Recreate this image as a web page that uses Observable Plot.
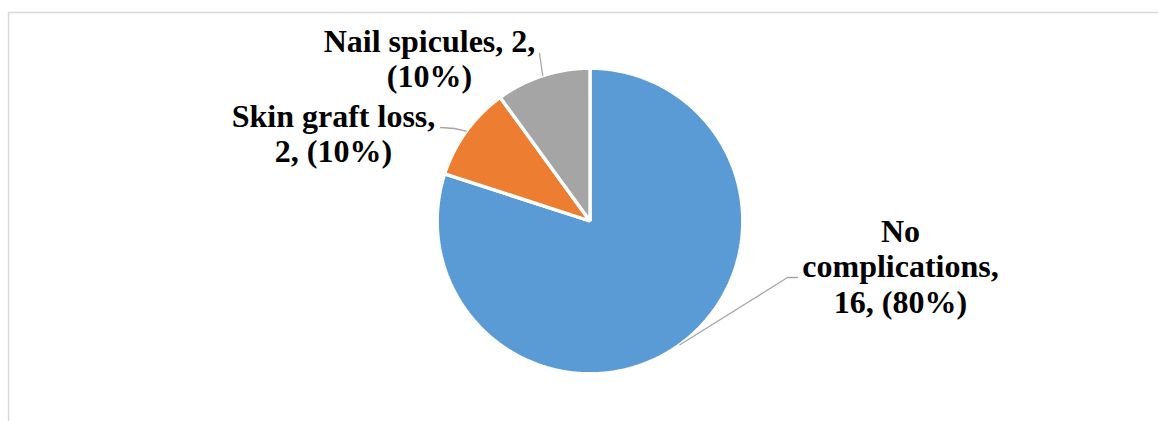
<!DOCTYPE html>
<html>
<head>
<meta charset="utf-8">
<script src="https://cdn.jsdelivr.net/npm/d3@7"></script>
<script src="https://cdn.jsdelivr.net/npm/@observablehq/plot@0.6"></script>
<style>
  html, body { margin: 0; padding: 0; background: #ffffff; }
  #chart svg { display: block; }
</style>
</head>
<body>
<div id="chart"></div>
<script>
// ---- data ----
const categories = ["No complications", "Skin graft loss", "Nail spicules"];
const counts = [16, 2, 2];
const percents = [80, 10, 10];

// ---- styles & layout (kept apart from the data) ----
const palette = ["#5B9BD5", "#ED7D31", "#A5A5A5"];
const W = 1158, H = 421;
const pieLayout = {cx: 589.5, cy: 220.5, r: 152.8, leaderR: 153};
const fontSize = 32, lineHeight = 1.12;
const labelLayout = {
  "No complications": {x: 900, baseline: 241, wrap: 14, elbow: [[797, 277], [787, 277]]},
  "Skin graft loss":  {x: 333, baseline: 126, wrap: 16, elbow: [[440, 127], [454, 128]]},
  "Nail spicules":    {x: 429, baseline: 51,  wrap: 17, elbow: [[539, 53]]}
};

// ---- build tables ----
const data = categories.map((c, i) => ({category: c, count: counts[i], percent: percents[i]}));
const arcs = d3.pie().sort(null).value(d => d.count)(data);

const polar = (a, r) => ({x: pieLayout.cx + r * Math.sin(a), y: pieLayout.cy - r * Math.cos(a)});

// wedge outlines
const wedgePoints = [];
for (const a of arcs) {
  const cat = a.data.category;
  wedgePoints.push({category: cat, ...polar(0, 0)});
  const steps = Math.max(8, Math.ceil((a.endAngle - a.startAngle) / (Math.PI / 360)));
  for (let k = 0; k <= steps; ++k) {
    const t = a.startAngle + (a.endAngle - a.startAngle) * k / steps;
    wedgePoints.push({category: cat, ...polar(t, pieLayout.r)});
  }
}

// word wrap
function wrap(text, width) {
  const words = text.split(" ");
  const lines = [];
  let cur = "";
  for (const w of words) {
    if (!cur) cur = w;
    else if ((cur + " " + w).length <= width) cur += " " + w;
    else { lines.push(cur); cur = w; }
  }
  if (cur) lines.push(cur);
  return lines.join("\n");
}

const labels = arcs.map(a => {
  const d = a.data, L = labelLayout[d.category];
  return {
    category: d.category,
    x: L.x,
    y: L.baseline - 0.71 * lineHeight * fontSize,
    text: wrap(`${d.category}, ${d.count}, (${d.percent}%)`, L.wrap)
  };
});

const leaders = [];
for (const a of arcs) {
  const L = labelLayout[a.data.category];
  const mid = (a.startAngle + a.endAngle) / 2;
  for (const [x, y] of L.elbow) leaders.push({category: a.data.category, x, y});
  leaders.push({category: a.data.category, ...polar(mid, pieLayout.leaderR)});
}

const chart = Plot.plot({
  width: W,
  height: H,
  margin: 0,
  style: {background: "#ffffff", overflow: "hidden"},
  x: {domain: [0, W], range: [0, W], axis: null},
  y: {domain: [0, H], range: [0, H], axis: null},
  color: {domain: categories, range: palette},
  marks: [
    Plot.ruleX([8], {y1: 12, y2: H + 10, stroke: "#d9d9d9", strokeWidth: 1.5}),
    Plot.ruleY([12], {x1: 8, x2: W + 10, stroke: "#d9d9d9", strokeWidth: 1.5}),
    Plot.line(wedgePoints, {
      x: "x", y: "y", z: "category", fill: "category",
      stroke: "#ffffff", strokeWidth: 3.4, strokeLinejoin: "miter",
      curve: "linear-closed"
    }),
    Plot.line(leaders, {x: "x", y: "y", z: "category", stroke: "#a6a6a6", strokeWidth: 1.3}),
    Plot.text(labels, {
      x: "x", y: "y", text: "text",
      lineAnchor: "top", lineHeight: lineHeight,
      fontSize: fontSize, fontWeight: "bold",
      fontFamily: "'Liberation Serif', 'Times New Roman', serif",
      fill: "#000000"
    })
  ]
});

document.getElementById("chart").appendChild(chart);
</script>
</body>
</html>
